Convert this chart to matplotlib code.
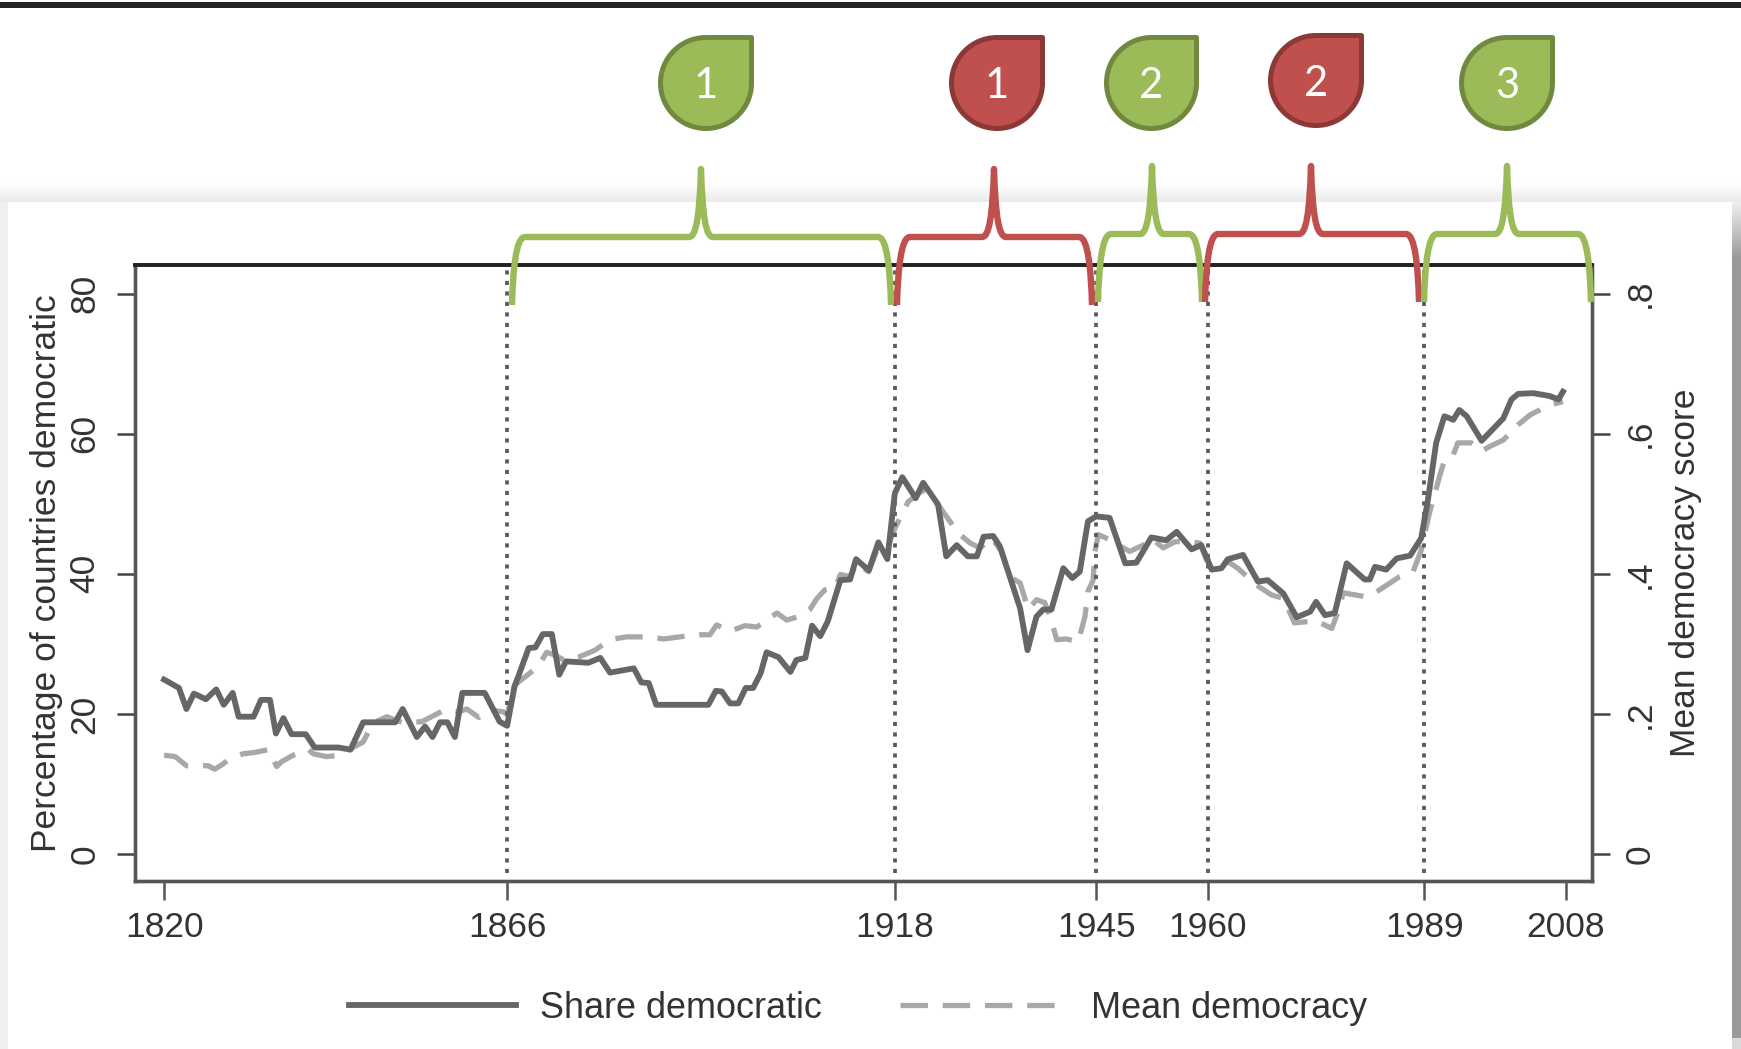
import numpy as np
import matplotlib
matplotlib.use('Agg')
import matplotlib.pyplot as plt
from matplotlib.lines import Line2D
from matplotlib.patches import PathPatch, Rectangle
from matplotlib.path import Path

plt.rcParams['font.family'] = ['Liberation Sans', 'DejaVu Sans']

# values
share_years = [1820, 1822, 1823, 1824, 1825.6, 1827, 1828, 1829.2, 1830, 1832, 1833, 1834.2, 1835, 1836, 1837.1, 1839,
               1840.2, 1843.4, 1845, 1846.7, 1851, 1852, 1853.9, 1855, 1856, 1857, 1858, 1859, 1860, 1863, 1865, 1866,
               1867, 1868.9, 1869.8, 1870.8, 1872, 1873, 1873.9, 1876.9, 1878.5, 1879.8, 1883, 1884, 1885, 1886, 1893,
               1894, 1894.8, 1895.9, 1897, 1898, 1899, 1900, 1900.8, 1902.4, 1904, 1904.8, 1906, 1906.9, 1908, 1909,
               1910.7, 1912, 1912.8, 1914.5, 1915.8, 1917, 1918, 1919, 1920.8, 1921.8, 1923.8, 1924.9, 1926.3, 1927.8,
               1929, 1929.9, 1931.2, 1932.1, 1934.8, 1935.8, 1937, 1937.9, 1939, 1940.6, 1941.8, 1942.8, 1943.9, 1945,
               1946.8, 1948.9, 1950.4, 1952.4, 1954.4, 1955.8, 1957.8, 1959.1, 1960.5, 1961.8, 1962.7, 1964.7, 1966.7,
               1968, 1970.1, 1971.9, 1973.7, 1974.5, 1975.7, 1977, 1978.6, 1981, 1981.7, 1982.4, 1983.9, 1985.3, 1987.1,
               1988.6, 1989.5, 1990.6, 1991.7, 1992.9, 1993.7, 1994.7, 1996.7, 1999.6, 2000.7, 2001.6, 2003.6, 2005.8,
               2007, 2007.6]
share_values = [24.9, 23.7, 20.7, 22.9, 22.1, 23.5, 21.3, 23, 19.6, 19.6, 22, 22, 17.2, 19.4, 17.1, 17.1,
                15.2, 15.2, 14.9, 18.8, 18.8, 20.7, 16.7, 18.2, 16.7, 18.8, 18.8, 16.7, 23, 23, 18.9, 18.3,
                23.9, 29.4, 29.5, 31.4, 31.4, 25.6, 27.5, 27.3, 28, 25.9, 26.5, 24.5, 24.4, 21.3, 21.3,
                23.3, 23.2, 21.5, 21.5, 23.7, 23.7, 25.8, 28.8, 28.1, 26, 27.7, 28, 32.6, 31.1, 33.2,
                39.1, 39.2, 42.1, 40.5, 44.5, 42.1, 51.5, 53.8, 50.8, 53, 49.9, 42.5, 44.1, 42.5,
                42.5, 45.3, 45.4, 43.9, 35.1, 29.1, 33.9, 34.9, 34.9, 40.8, 39.4, 40.3, 47.5, 48.2,
                48, 41.5, 41.6, 45.2, 44.8, 46, 43.5, 44.1, 40.6, 40.8, 42.1, 42.7, 38.9,
                39.1, 37.2, 33.8, 34.6, 36, 34.1, 34.4, 41.5, 39.2, 39.2, 41, 40.6, 42.2, 42.6,
                45.1, 50.6, 58.7, 62.5, 62, 63.4, 62.5, 59, 62.2, 64.9, 65.7, 65.8, 65.4,
                64.9, 66]

mean_years = [1820, 1821.5, 1823, 1824.4, 1825.9, 1826.8, 1827.7, 1829.1, 1830.6, 1832.2, 1834, 1835.1, 1835.8, 1837.3,
              1839.4, 1840, 1841.8, 1843.4, 1845, 1846.7, 1848, 1849.9, 1851, 1852.3, 1854.6, 1857.7, 1859.5, 1860.6,
              1862.2, 1863.5, 1865.5, 1866, 1867, 1868.9, 1870.2, 1871.3, 1872.4, 1873.6, 1875.8, 1877.8, 1879.8, 1882,
              1885.2, 1887, 1889.9, 1891.9, 1893.2, 1894.1, 1895.9, 1897.9, 1899.5, 1900.8, 1902.2, 1903.5, 1905.1,
              1906.6, 1907.5, 1908.6, 1910, 1910.7, 1912, 1912.9, 1914.5, 1915.6, 1917.1, 1918, 1919.8, 1921.8, 1924,
              1926.5, 1928.1, 1929.4, 1931, 1932.3, 1933.4, 1934.8, 1935.9, 1937, 1938.1, 1939, 1939.7, 1941, 1942.6,
              1943.5, 1943.9, 1944.6, 1944.8, 1945.3, 1946.8, 1948, 1949.5, 1951.3, 1952.4, 1954, 1955.6, 1957.3, 1958.9,
              1959.8, 1961.6, 1964, 1966.5, 1968.5, 1970.1, 1971.6, 1974.5, 1976.6, 1977.7, 1978.1, 1981.3, 1983,
              1985.7, 1987.5, 1988.6, 1989.7, 1991.1, 1991.8, 1992.9, 1993.5, 1995.3, 1996.7, 1997.8, 1999.6, 2001.6,
              2003.2, 2005.8, 2007.6]
mean_values = [.141, .139, .126, .126, .126, .121, .127, .138, .143, .145, .149, .125, .132, .141,
               .149, .143, .139, .141, .15, .16, .187, .196, .191, .187, .189, .206, .203, .207,
               .195, .206, .203, .199, .241, .257, .268, .288, .284, .277, .282, .291, .306, .31,
               .31, .307, .311, .313, .313, .327, .318, .326, .324, .334, .344, .334, .339,
               .349, .364, .377, .38, .399, .396, .415, .403, .434, .439, .465, .503, .52, .496,
               .458, .444, .437, .451, .432, .396, .387, .349, .363, .359, .334, .306, .307, .303,
               .339, .375, .391, .43, .456, .449, .441, .432, .441, .451, .437, .446, .446, .444,
               .42, .425, .408, .384, .37, .365, .33, .333, .322, .353, .373, .367, .377,
               .396, .403, .434, .487, .541, .565, .57, .587, .587, .575, .582, .591, .613,
               .627, .641, .646]

period_years = [1866, 1918, 1945, 1960, 1989]
x_ticks = [1820, 1866, 1918, 1945, 1960, 1989, 2008]
left_ticks = [0, 20, 40, 60, 80]
right_ticks = [0, .2, .4, .6, .8]
right_labels = ['0', '.2', '.4', '.6', '.8']

GREEN, GREEN_EDGE = '#9BBB59', '#71893F'
RED, RED_EDGE = '#C0504D', '#8C3836'
TXT = '#333333'
FS = 25.5
SHARE_COL = '#666666'
MEAN_COL = '#a8a8a8'
MEAN_DASH = (5.2, 2.8)

# left, right, peak, horizontal y, top y, bottom y, colour (pixels)
braces = [(512, 891, 701, 237, 169, 305, GREEN),
          (897, 1092, 994, 237, 169, 305, RED),
          (1098, 1202, 1152, 234, 166, 302, GREEN),
          (1205, 1419, 1311, 234, 166, 302, RED),
          (1424, 1591, 1507, 234, 166, 302, GREEN)]
# left, right, top, bottom, label, fill, edge (pixels)
drops = [(658, 754, 35, 131, '1', GREEN, GREEN_EDGE),
         (949, 1045, 35, 131, '1', RED, RED_EDGE),
         (1104, 1199, 35, 131, '2', GREEN, GREEN_EDGE),
         (1268, 1364, 33, 128, '2', RED, RED_EDGE),
         (1459, 1555, 35, 131, '3', GREEN, GREEN_EDGE)]

W, H = 1741, 1049
fig = plt.figure(figsize=(W / 100, H / 100), dpi=100, facecolor='white')

# slide background behind the chart
bg = fig.add_axes([0, 0, 1, 1], zorder=-1)
bg.set_xlim(0, W)
bg.set_ylim(H, 0)
bg.axis('off')
bg.add_patch(Rectangle((0, 2), W, 6, fc='#222222', ec='none'))
bg.imshow(np.linspace(1, .92, 20).reshape(-1, 1), cmap='gray', vmin=0, vmax=1, aspect='auto',
          extent=(0, W, 202, 183), zorder=1)
bg.add_patch(Rectangle((0, 202), 8, H - 202, fc='#f0f0f0', ec='none', zorder=2))
bg.imshow(np.linspace(.93, .6, 20).reshape(-1, 1), cmap='gray', vmin=0, vmax=1, aspect='auto',
          extent=(1732, W, 260, 202), zorder=1)
bg.add_patch(Rectangle((1732, 260), 9, 778, fc='#999999', ec='none', zorder=2))
bg.add_patch(Rectangle((1732, 1038), 9, 11, fc='#d9d9d9', ec='none', zorder=2))
bg.set_xlim(0, W)
bg.set_ylim(H, 0)

# main axes, mean democracy goes on the second one and under the share line
ax = fig.add_axes([135 / W, (H - 881) / H, (1592 - 135) / W, (881 - 265) / H])
ax2 = ax.twinx()
ax.set_zorder(ax2.get_zorder() + 1)
ax.patch.set_visible(False)
ax2.patch.set_visible(False)

ax2.plot(mean_years, mean_values, color=MEAN_COL, lw=3.8, dashes=MEAN_DASH, dash_capstyle='butt',
         label='Mean democracy')
ax.plot(share_years, share_values, color=SHARE_COL, lw=4.2, solid_joinstyle='round', label='Share democratic')
ax.vlines(period_years, -2.7, 84, color='#5a5a5a', lw=2.7, linestyles=[(0, (1.1, 1.7))], zorder=1)

ax.set_xlim(1816.1, 2011.5)
ax.set_ylim(-3.86, 84.1)
ax2.set_ylim(-.0386, .841)

ax.set_xticks(x_ticks)
ax.set_xticklabels([str(y) for y in x_ticks], color=TXT, fontsize=FS)
ax.set_yticks(left_ticks)
ax.set_yticklabels([str(v) for v in left_ticks], color=TXT, fontsize=FS, rotation=90, va='center')
ax2.set_yticks(right_ticks)
ax2.set_yticklabels(right_labels, color=TXT, fontsize=FS, rotation=90, va='center')

ax.tick_params(axis='x', length=13.5, width=1.8, color='#555555', pad=8)
ax.tick_params(axis='y', length=13, width=1.8, color='#444444', pad=11)
ax2.tick_params(axis='y', length=13, width=1.8, color='#444444', pad=10)

for a in (ax, ax2):
    for side in ('left', 'right', 'bottom'):
        a.spines[side].set_color('#555555')
        a.spines[side].set_linewidth(2.4)
    a.spines['top'].set_color('#222222')
    a.spines['top'].set_linewidth(2.6)

ax.set_ylabel('Percentage of countries democratic', fontsize=FS, color=TXT, labelpad=4)
ax2.set_ylabel('Mean democracy score', fontsize=FS, color=TXT, labelpad=9)

handles = [Line2D([], [], color=SHARE_COL, lw=4.2), Line2D([], [], color=MEAN_COL, lw=3.8, dashes=MEAN_DASH)]
fig.legend(handles, ['Share democratic', 'Mean democracy'], ncol=2, loc='center',
           bbox_to_anchor=(858 / W, (H - 1008) / H), frameon=False, fontsize=25.9, labelcolor=TXT,
           handlelength=4.65, handletextpad=.68, columnspacing=2.15, borderpad=0, borderaxespad=0)

# braces and drops are slide shapes sitting on top of the chart
over = fig.add_axes([0, 0, 1, 1], zorder=10)
over.set_xlim(0, W)
over.set_ylim(H, 0)
over.axis('off')


def brace_path(xl, xr, xp, yh, yt, yb):
    verts = [(xl, yb), (xl + 1, yh + 32), (xl + 4, yh), (xl + 13, yh),
             (xp - 12, yh), (xp - 5, yh), (xp - 1.5, yh - 20), (xp, yt),
             (xp + 1.5, yh - 20), (xp + 5, yh), (xp + 12, yh),
             (xr - 13, yh), (xr - 4, yh), (xr - 1, yh + 32), (xr, yb)]
    codes = [Path.MOVETO, Path.CURVE4, Path.CURVE4, Path.CURVE4,
             Path.LINETO, Path.CURVE4, Path.CURVE4, Path.CURVE4,
             Path.CURVE4, Path.CURVE4, Path.CURVE4,
             Path.LINETO, Path.CURVE4, Path.CURVE4, Path.CURVE4]
    return Path(verts, codes)


def drop_path(xl, xr, yt, yb):
    xl, xr, yt, yb = xl + 2.5, xr - 2.5, yt + 2.5, yb - 2.5
    cx, cy = (xl + xr) / 2, (yt + yb) / 2
    kx, ky = .5523 * (xr - xl) / 2, .5523 * (yb - yt) / 2
    verts = [(xr, yt), (xr, cy), (xr, cy + ky), (cx + kx, yb), (cx, yb),
             (cx - kx, yb), (xl, cy + ky), (xl, cy),
             (xl, cy - ky), (cx - kx, yt), (cx, yt), (xr, yt), (xr, yt)]
    codes = [Path.MOVETO, Path.LINETO, Path.CURVE4, Path.CURVE4, Path.CURVE4,
             Path.CURVE4, Path.CURVE4, Path.CURVE4,
             Path.CURVE4, Path.CURVE4, Path.CURVE4, Path.LINETO, Path.CLOSEPOLY]
    return Path(verts, codes)


for xl, xr, xp, yh, yt, yb, col in braces:
    over.add_patch(PathPatch(brace_path(xl, xr, xp, yh, yt, yb), fc='none', ec=col, lw=4.6,
                             capstyle='butt', joinstyle='round'))
for xl, xr, yt, yb, lab, fc, ec in drops:
    over.add_patch(PathPatch(drop_path(xl, xr, yt, yb), fc=fc, ec=ec, lw=3.6, joinstyle='round'))
    over.text((xl + xr) / 2, (yt + yb) / 2, lab, color='white', fontsize=30, family='Lato',
              ha='center', va='center_baseline')

fig.savefig('out.png', dpi=100)
